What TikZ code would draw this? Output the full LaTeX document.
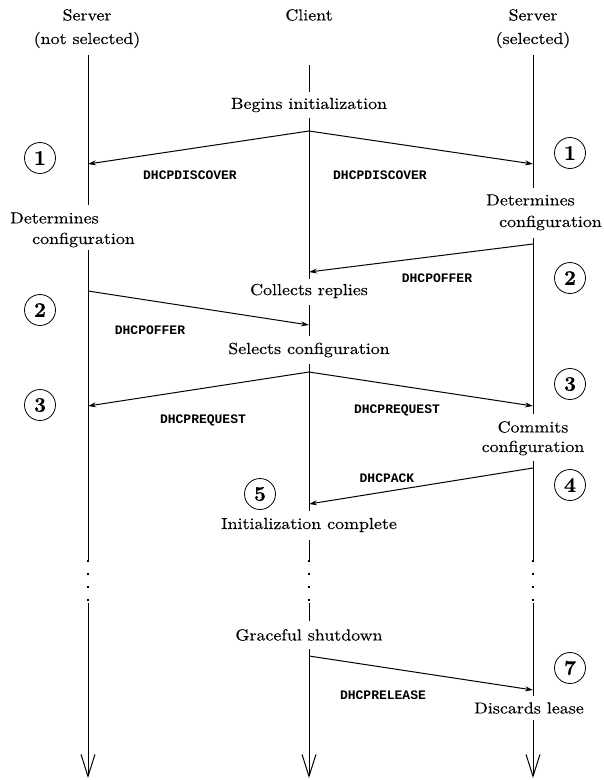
\documentclass[tikz,border=0pt]{standalone}
\usepackage{fontspec}
\setmainfont{lmroman10-regular.otf}[FakeStretch=1.12,FakeBold=0.3,BoldFont=lmroman10-bold.otf,BoldFeatures={FakeStretch=1}]
\setmonofont{Liberation Mono}
\usetikzlibrary{arrows.meta}
\begin{document}
\begin{tikzpicture}[x=1pt,y=-1pt,
  life/.style={line width=1pt},
  msg/.style={line width=1pt,-{Stealth[length=8pt,width=5pt]}},
  lbl/.style={font=\fontsize{16}{18}\selectfont, inner sep=0pt},
  pkt/.style={font=\fontsize{13}{15}\selectfont\ttfamily\bfseries, inner sep=0pt},
  num/.style={circle,draw,line width=0.8pt,minimum size=31pt,inner sep=0pt,font=\fontsize{21}{23}\selectfont\bfseries},
  endarrow/.style={line width=1pt,-{Straight Barb[length=22pt,width=14pt]}},
  dotline/.style={line width=1.2pt,dash pattern=on 2pt off 11pt}]
\useasboundingbox (0,0) rectangle (604,780);
% headers
\node[lbl] (h1) at (87,15) {Server};
\node[lbl] (h1b) at (87,40) {(not selected)};
\node[lbl] (h2) at (309,15) {Client};
\node[lbl] (h3) at (533,15) {Server};
\node[lbl] (h3b) at (533,40) {(selected)};
% client texts
\node[lbl] (begin) at (309,105) {Begins initialization};
\node[lbl] (collect) at (309,291) {Collects replies};
\node[lbl] (select) at (309,350) {Selects configuration};
\node[lbl] (initc) at (309,525) {Initialization complete};
\node[lbl] (grace) at (309,635) {Graceful shutdown};
% server texts
\node[lbl,anchor=west] (detL1) at (10,218) {Determines};
\node[lbl,anchor=west] (detL2) at (32,240) {configuration};
\node[lbl,anchor=west] (detR1) at (486,200) {Determines};
\node[lbl,anchor=east] (detR2) at (602,223) {configuration};
\node[lbl] (com1) at (533,427) {Commits};
\node[lbl] (com2) at (533,448) {configuration};
\node[lbl] (disc) at (529,708) {Discards lease};
% numbers
\node[num] (n1L) at (40,158) {1};
\node[num] (n1R) at (570,153) {1};
\node[num] (n2R) at (570,278) {2};
\node[num] (n2L) at (40,310) {2};
\node[num] (n3R) at (570,384) {3};
\node[num] (n3L) at (40,405) {3};
\node[num] (n4R) at (570,485) {4};
\node[num] (n5) at (260,494) {5};
\node[num] (n7R) at (570,668) {7};
% coordinates: left lifeline
\coordinate (L0) at (88,55);
\coordinate (Ld) at (88,164);
\coordinate (L1) at (88,205);
\coordinate (L2) at (88,250);
\coordinate (Lo) at (88,291);
\coordinate (Lr) at (88,406);
\coordinate (L3) at (88,560);
\coordinate (L4) at (88,603);
\coordinate (Lend) at (88,778);
% center lifeline
\coordinate (C0) at (309,65);
\coordinate (C1) at (309,92);
\coordinate (C2) at (309,118);
\coordinate (Cd) at (309,131);
\coordinate (Co1) at (309,272);
\coordinate (C3) at (309,279);
\coordinate (C4) at (309,305);
\coordinate (Co2) at (309,325);
\coordinate (C5) at (309,336);
\coordinate (C6) at (309,364);
\coordinate (Cr) at (309,372);
\coordinate (Ca) at (309,504);
\coordinate (C7) at (309,511);
\coordinate (C8) at (309,540);
\coordinate (C9) at (309,560);
\coordinate (C10) at (309,603);
\coordinate (C11) at (309,621);
\coordinate (C12) at (309,649);
\coordinate (Crel) at (309,656);
\coordinate (Cend) at (309,778);
% right lifeline
\coordinate (R0) at (533,55);
\coordinate (Rd) at (533,164);
\coordinate (R1) at (533,188);
\coordinate (R2) at (533,238);
\coordinate (Ro) at (533,244);
\coordinate (Rr) at (533,406);
\coordinate (R3) at (533,414);
\coordinate (R4) at (533,461);
\coordinate (Ra) at (533,468);
\coordinate (R5) at (533,560);
\coordinate (R6) at (533,603);
\coordinate (Rrel) at (533,690);
\coordinate (R7) at (533,696);
\coordinate (R8) at (533,720);
\coordinate (Rend) at (533,778);
% lifelines
\draw[life] (L0) -- (L1) (L2) -- (L3);
\draw[dotline] (L3) -- (L4);
\draw[endarrow] (L4) -- (Lend);
\draw[life] (C0) -- (C1) (C2) -- (C3) (C4) -- (C5) (C6) -- (C7) (C8) -- (C9) (C10) -- (C11);
\draw[dotline] (C9) -- (C10);
\draw[endarrow] (C12) -- (Cend);
\draw[life] (R0) -- (R1) (R2) -- (R3) (R4) -- (R5) (R6) -- (R7);
\draw[dotline] (R5) -- (R6);
\draw[endarrow] (R8) -- (Rend);
% messages
\draw[msg] (Cd) -- (Ld);
\draw[msg] (Cd) -- (Rd);
\draw[msg] (Ro) -- (Co1);
\draw[msg] (Lo) -- (Co2);
\draw[msg] (Cr) -- (Lr);
\draw[msg] (Cr) -- (Rr);
\draw[msg] (Ra) -- (Ca);
\draw[msg] (Crel) -- (Rrel);
% packet labels
\node[pkt] (p1) at (190,175) {DHCPDISCOVER};
\node[pkt] (p2) at (380,175) {DHCPDISCOVER};
\node[pkt] (p3) at (437,278) {DHCPOFFER};
\node[pkt] (p4) at (150,330) {DHCPOFFER};
\node[pkt] (p5) at (203,420) {DHCPREQUEST};
\node[pkt] (p6) at (397,410) {DHCPREQUEST};
\node[pkt] (p7) at (387,478) {DHCPACK};
\node[pkt] (p8) at (383,695) {DHCPRELEASE};
\end{tikzpicture}
\end{document}
